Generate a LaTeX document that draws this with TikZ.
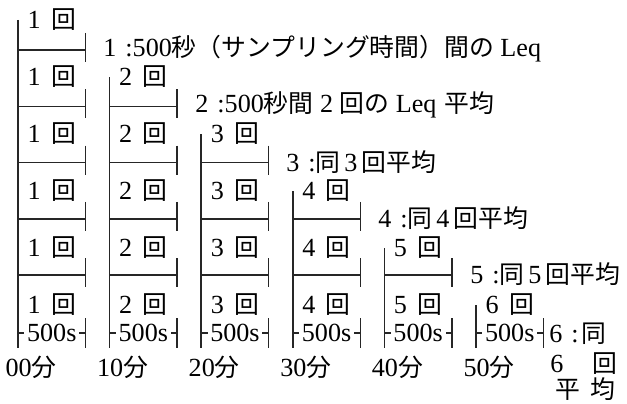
\documentclass[tikz,border=0pt]{standalone}
\usepackage{fontspec}
\setmainfont{Liberation Serif}
\newfontfamily\jp{Noto Sans CJK JP}[Scale=0.95]
\begin{document}
\begin{tikzpicture}[x=0.75pt,y=-0.75pt,
  ln/.style={line width=1.1pt,black!85},
  txt/.style={inner sep=0pt,font=\fontsize{19.6}{22}\selectfont},
  lab/.style={txt,anchor=west}]
\useasboundingbox (0,0) rectangle (627,403);
\foreach \k in {1,...,6} {
  \pgfmathsetmacro{\L}{18+91.6*(\k-1)}
  \pgfmathsetmacro{\R}{\L+67.5}
  \pgfmathsetmacro{\M}{(\L+\R)/2}
  \pgfmathsetmacro{\T}{20+57*(\k-1)}
  \coordinate (top\k) at (\L,\T);
  \coordinate (bot\k) at (\L,348);
  \draw[ln] (top\k) -- (bot\k);
  \foreach \j in {1,...,5} {
    \ifnum\j<\k\relax\else
      \pgfmathsetmacro{\H}{50+56.3*(\j-1)}
      \coordinate (hl\k-\j) at (\L,\H);
      \coordinate (hr\k-\j) at (\R,\H);
      \coordinate (tt\k-\j) at (\R,\H-17);
      \coordinate (tb\k-\j) at (\R,\H+12);
      \draw[ln] (hl\k-\j) -- (hr\k-\j);
      \draw[ln] (tt\k-\j) -- (tb\k-\j);
    \fi
  }
  \foreach \j in {1,...,6} {
    \ifnum\j<\k\relax\else
      \node[txt] (n\k-\j) at (\M,{20+57*(\j-1)}) {\k\hspace{.4em}{\jp 回}};
    \fi
  }
  \coordinate (sl\k) at (\L,333);
  \coordinate (sr\k) at (\R,333);
  \coordinate (st\k) at (\R,318);
  \coordinate (sb\k) at (\R,348);
  \draw[ln] (sl\k) -- (sr\k);
  \draw[ln] (st\k) -- (sb\k);
  \node[txt,fill=white,inner xsep=2pt] (s\k) at (\M,333) {500s};
  \node[txt] (t\k) at (\L+13,367) {\the\numexpr\k-1\relax0{\jp 分}};
}
\node[lab] (lab1) at (103,49) {1\hspace{.35em}:500{\jp 秒（サンプリング時間）間の}\hspace{.25em}Leq};
\node[lab] (lab2) at (195,105) {2\hspace{.35em}:500{\jp 秒間}\hspace{.25em}2\hspace{.25em}{\jp 回の}\hspace{.25em}Leq\hspace{.3em}{\jp 平均}};
\node[lab] (lab3) at (286,162) {3\hspace{.35em}:{\jp 同}\hspace{.15em}3\hspace{.15em}{\jp 回平均}};
\node[lab] (lab4) at (378,218) {4\hspace{.35em}:{\jp 同}\hspace{.15em}4\hspace{.15em}{\jp 回平均}};
\node[lab] (lab5) at (470,274) {5\hspace{.35em}:{\jp 同}\hspace{.15em}5\hspace{.15em}{\jp 回平均}};
\node[lab] (lab6a) at (549,334) {6\hspace{.35em}:\hspace{.1em}{\jp 同}};
\node[lab] (lab6b) at (550,364) {6\hspace{1.1em}{\jp 回}};
\node[lab] (lab6c) at (555,389) {{\jp 平}\hspace{.4em}{\jp 均}};
\end{tikzpicture}
\end{document}
